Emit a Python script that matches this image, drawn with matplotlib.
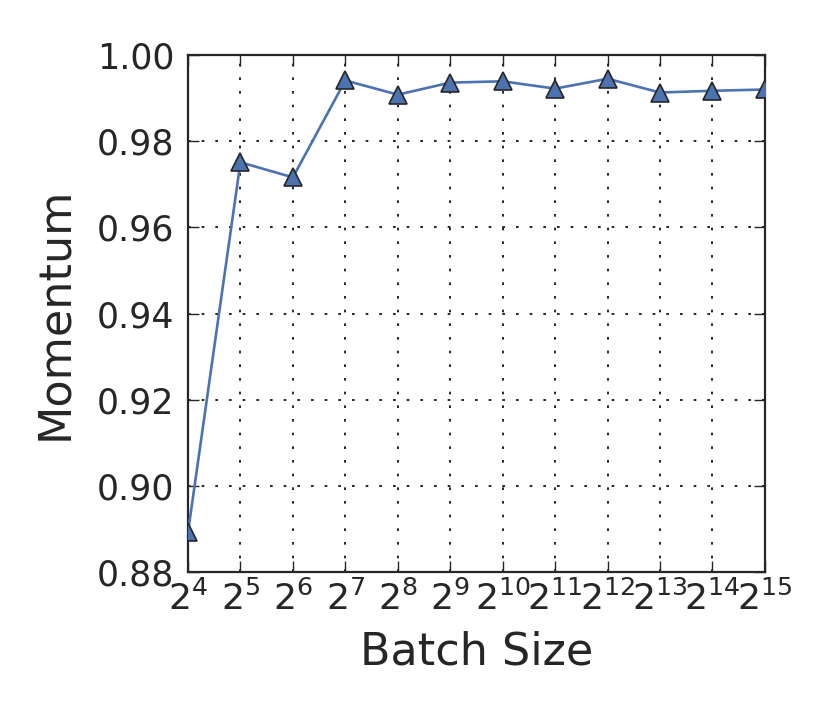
import matplotlib
matplotlib.use("Agg")
import matplotlib.pyplot as plt
from matplotlib.ticker import LogLocator, LogFormatterMathtext, NullLocator

# data
batch_size = [2**k for k in range(4, 16)]
momentum = [0.8892, 0.9751, 0.9716, 0.9941, 0.9908, 0.9936,
            0.9939, 0.9922, 0.9945, 0.9913, 0.9917, 0.9920]

dark = "#262626"
plt.rcParams["font.family"] = "DejaVu Sans"
plt.rcParams["mathtext.fontset"] = "dejavusans"

fig = plt.figure(figsize=(8.3, 7.27), dpi=100)
ax = fig.add_axes([0.2265, 0.2132, 0.695, 0.7111])

ax.plot(batch_size, momentum, color="#4C72B0", lw=1.9, marker="^",
        markersize=13, markerfacecolor="#4C72B0", markeredgecolor=dark,
        markeredgewidth=1.2, zorder=3)

ax.set_xscale("log", base=2)
ax.set_xlim(2**4, 2**15)
ax.set_ylim(0.88, 1.00)
ax.xaxis.set_major_locator(LogLocator(base=2, numticks=20))
ax.xaxis.set_major_formatter(LogFormatterMathtext(base=2))
ax.xaxis.set_minor_locator(NullLocator())
ax.set_yticks([0.88, 0.90, 0.92, 0.94, 0.96, 0.98, 1.00])
ax.set_yticklabels(["0.88", "0.90", "0.92", "0.94", "0.96", "0.98", "1.00"])

ax.grid(True, color="black", linestyle=(0, (1.6, 6.6)), linewidth=1.2)
ax.tick_params(direction="in", length=8, width=1, top=True, right=True,
               colors=dark, labelcolor=dark, pad=8)
ax.tick_params(axis="y", labelsize=25, pad=10)
ax.tick_params(axis="x", labelsize=26, pad=6)
for s in ax.spines.values():
    s.set_color(dark)
    s.set_linewidth(1.6)

ax.set_xlabel("Batch Size", fontsize=32, color=dark, labelpad=10)
ax.set_ylabel("Momentum", fontsize=32, color=dark, labelpad=15)

fig.savefig("out.png", dpi=100)
